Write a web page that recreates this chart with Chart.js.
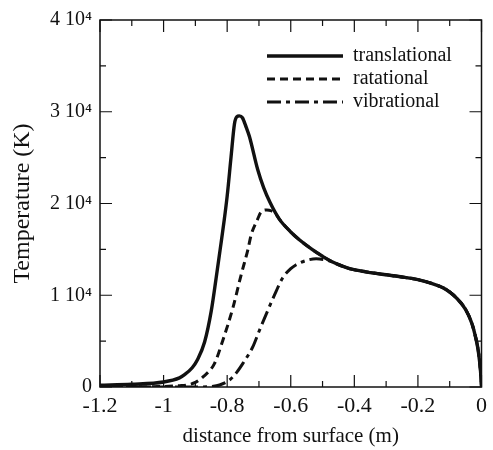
<!DOCTYPE html>
<html>
<head>
<meta charset="utf-8">
<script src="https://cdn.jsdelivr.net/npm/chart.js@4"></script>
<style>
  body { margin: 0; background: #fff; }
  #wrap { width: 493px; height: 450px; position: relative; }
</style>
</head>
<body>
<div id="wrap"><canvas id="tempChart"></canvas></div>
<script>
// distance from surface (m) and temperature (K)
const transX = [-1.2, -1.1, -1.0, -0.95, -0.934, -0.91, -0.893, -0.871, -0.85, -0.835, -0.822, -0.81, -0.8, -0.788, -0.777, -0.77, -0.762, -0.752, -0.74, -0.73, -0.704, -0.685, -0.665, -0.636, -0.6, -0.573, -0.533, -0.5, -0.47, -0.42, -0.364, -0.3, -0.26, -0.2, -0.157, -0.12, -0.1, -0.08, -0.05, -0.03, -0.019, -0.01, -0.003, 0];
const transT = [200, 300, 550, 1000, 1350, 2100, 3000, 4900, 8300, 11800, 15000, 18000, 20800, 25000, 28700, 29450, 29550, 29350, 28300, 27300, 23700, 21700, 20100, 18300, 16900, 16050, 15000, 14250, 13650, 12950, 12550, 12230, 12040, 11700, 11290, 10800, 10350, 9750, 8450, 6900, 5500, 3900, 1700, 0];

const rotX = [-1.2, -1.0, -0.95, -0.928, -0.9, -0.876, -0.84, -0.814, -0.782, -0.756, -0.734, -0.725, -0.704, -0.694, -0.675, -0.662, -0.646, -0.636, -0.6, -0.573, -0.533, -0.5, -0.47, -0.42, -0.364, -0.3, -0.26, -0.2, -0.157, -0.12, -0.1, -0.08, -0.05, -0.03, -0.019, -0.01, -0.003, 0];
const rotT = [0, 50, 150, 215, 500, 1100, 2550, 5050, 8630, 12230, 15090, 16520, 18310, 19030, 19300, 19210, 18800, 18300, 16900, 16050, 15000, 14250, 13650, 12950, 12550, 12230, 12040, 11700, 11290, 10800, 10350, 9750, 8450, 6900, 5500, 3900, 1700, 0];

const vibX = [-1.2, -0.9, -0.85, -0.824, -0.793, -0.77, -0.751, -0.72, -0.699, -0.673, -0.646, -0.626, -0.6, -0.584, -0.55, -0.52, -0.49, -0.47, -0.42, -0.364, -0.3, -0.26, -0.2, -0.157, -0.12, -0.1, -0.08, -0.05, -0.03, -0.019, -0.01, -0.003, 0];
const vibT = [0, 0, 60, 215, 750, 1600, 2550, 4330, 6130, 8280, 10430, 11860, 12900, 13300, 13800, 13980, 13850, 13650, 12950, 12550, 12230, 12040, 11700, 11290, 10800, 10350, 9750, 8450, 6900, 5500, 3900, 1700, 0];

const seriesNames = ['translational', 'ratational', 'vibrational'];
const xTickValues = [-1.2, -1, -0.8, -0.6, -0.4, -0.2, 0];
const yTickValues = [0, 10000, 20000, 30000, 40000];

const serif = "'Liberation Serif', 'Times New Roman', serif";

function toPoints(xs, ys) {
  return xs.map((x, i) => ({ x: x, y: ys[i] }));
}

// ticks drawn inward on all four sides, plus the frame
const frameTicks = {
  id: 'frameTicks',
  afterDatasetsDraw(chart) {
    const { ctx, chartArea: a, scales: { x, y } } = chart;
    ctx.save();
    ctx.strokeStyle = '#111';
    ctx.lineWidth = 1.5;
    ctx.strokeRect(a.left, a.top, a.right - a.left, a.bottom - a.top);
    ctx.lineWidth = 1.2;
    ctx.beginPath();
    xTickValues.forEach((v, i) => {
      const px = x.getPixelForValue(v);
      ctx.moveTo(px, a.bottom); ctx.lineTo(px, a.bottom - 12);
      ctx.moveTo(px, a.top); ctx.lineTo(px, a.top + 12);
      if (i < xTickValues.length - 1) {
        const mx = x.getPixelForValue((v + xTickValues[i + 1]) / 2);
        ctx.moveTo(mx, a.bottom); ctx.lineTo(mx, a.bottom - 6);
        ctx.moveTo(mx, a.top); ctx.lineTo(mx, a.top + 6);
      }
    });
    yTickValues.forEach((v, i) => {
      const py = y.getPixelForValue(v);
      ctx.moveTo(a.left, py); ctx.lineTo(a.left + 12, py);
      ctx.moveTo(a.right, py); ctx.lineTo(a.right - 12, py);
      if (i < yTickValues.length - 1) {
        const my = y.getPixelForValue((v + yTickValues[i + 1]) / 2);
        ctx.moveTo(a.left, my); ctx.lineTo(a.left + 6, my);
        ctx.moveTo(a.right, my); ctx.lineTo(a.right - 6, my);
      }
    });
    ctx.stroke();
    ctx.restore();
  }
};

// put the column legend in the upper right of the plot
const placeLegend = {
  id: 'placeLegend',
  afterLayout(chart) {
    const lg = chart.legend;
    if (!lg) return;
    const w = lg.width, h = lg.height;
    lg.left = 264; lg.right = lg.left + w;
    lg.top = 43; lg.bottom = lg.top + h;
  }
};

new Chart(document.getElementById('tempChart'), {
  type: 'line',
  data: {
    datasets: [
      {
        label: seriesNames[0],
        data: toPoints(transX, transT),
        borderColor: '#111',
        borderWidth: 3.4,
        borderDash: []
      },
      {
        label: seriesNames[1],
        data: toPoints(rotX, rotT),
        borderColor: '#111',
        borderWidth: 3,
        borderDash: [8, 5]
      },
      {
        label: seriesNames[2],
        data: toPoints(vibX, vibT),
        borderColor: '#111',
        borderWidth: 3,
        borderDash: [14, 5, 4, 5]
      }
    ]
  },
  options: {
    responsive: true,
    maintainAspectRatio: false,
    animation: false,
    layout: { padding: { top: 15, right: 10, left: 0, bottom: 0 } },
    elements: {
      point: { radius: 0 },
      line: { cubicInterpolationMode: 'monotone', fill: false }
    },
    plugins: {
      legend: {
        position: 'chartArea',
        align: 'start',
        labels: {
          usePointStyle: true,
          pointStyle: 'line',
          pointStyleWidth: 76,
          padding: 3,
          color: '#111',
          font: { family: serif, size: 20 },
          generateLabels(chart) {
            const items = Chart.defaults.plugins.legend.labels.generateLabels(chart);
            items.forEach(item => {
              const ds = chart.data.datasets[item.datasetIndex];
              item.lineDash = ds.borderDash;
              item.lineWidth = ds.borderWidth;
              item.strokeStyle = ds.borderColor;
              item.lineCap = 'butt';
            });
            return items;
          }
        }
      },
      tooltip: { enabled: false }
    },
    scales: {
      x: {
        type: 'linear',
        min: -1.2,
        max: 0,
        afterFit(scale) { scale.height = 63; },
        afterBuildTicks(scale) { scale.ticks = xTickValues.map(v => ({ value: v })); },
        grid: { display: false, drawTicks: false },
        border: { display: false },
        ticks: {
          color: '#111',
          padding: 6,
          maxRotation: 0,
          font: { family: serif, size: 22 },
          callback: v => String(Math.round(v * 10) / 10)
        },
        title: {
          display: true,
          text: 'distance from surface (m)',
          color: '#111',
          padding: { top: 0, bottom: 1 },
          font: { family: serif, size: 21 }
        }
      },
      y: {
        type: 'linear',
        min: 0,
        max: 40000,
        afterFit(scale) { scale.width = 100; },
        afterBuildTicks(scale) { scale.ticks = yTickValues.map(v => ({ value: v })); },
        grid: { display: false, drawTicks: false },
        border: { display: false },
        ticks: {
          color: '#111',
          padding: 8,
          font: { family: serif, size: 20 },
          callback: v => v === 0 ? '0' : (v / 10000) + ' 10\u2074'
        },
        title: {
          display: true,
          text: 'Temperature (K)',
          color: '#111',
          padding: { top: 8, bottom: 0 },
          font: { family: serif, size: 24 }
        }
      }
    }
  },
  plugins: [frameTicks, placeLegend]
});
</script>
</body>
</html>
